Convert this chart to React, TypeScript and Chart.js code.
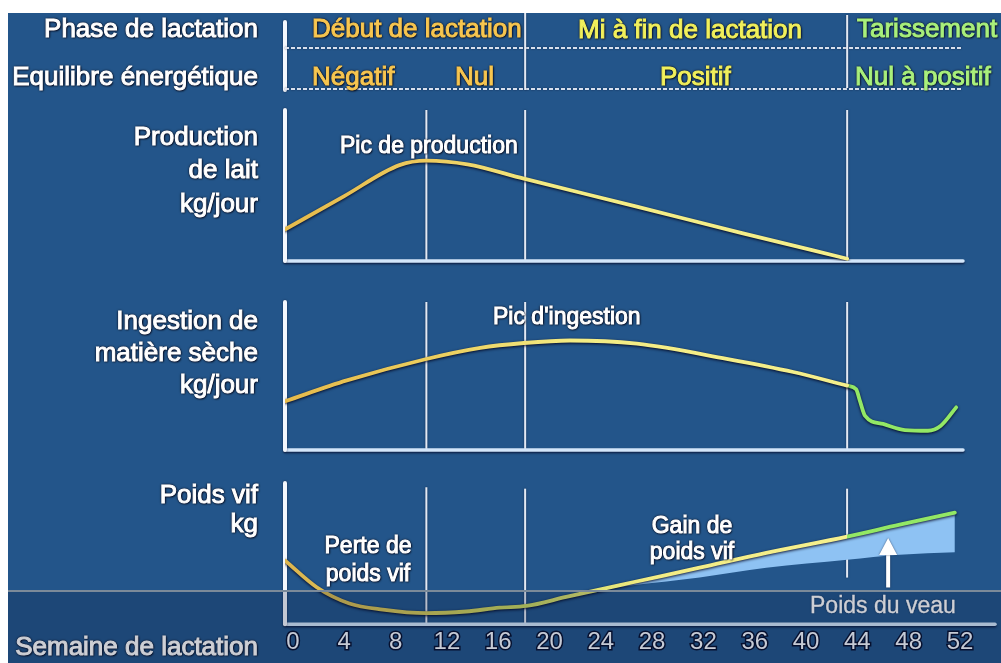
import React, { useEffect, useRef } from "react";
import { Chart, registerables } from "chart.js";

Chart.register(...registerables);

// ---------------- data ----------------
const weekTicks = [0, 4, 8, 12, 16, 20, 24, 28, 32, 36, 40, 44, 48, 52];
const phaseBoundaries = [10.4, 18.1, 43.2];

const milkWeeks = [-0.6, 4, 8.3, 10.4, 13.6, 18, 26.8, 35, 43.2];
const milkValues = [21, 43, 63.5, 66.5, 64, 54.5, 36, 18.5, 1.5];

const dmiWeeks = [-0.6, 4.2, 10.4, 14.6, 18, 21.6, 26.8, 33.8, 39, 43.2];
const dmiValues = [33, 47, 61.5, 69, 72.3, 74, 71.8, 61.6, 52.7, 43.5];
const dmiDryWeeks = [43.2, 43.9, 44.2, 44.6, 46, 47.7, 49.5, 50.5, 51.7];
const dmiDryValues = [43.5, 41, 33, 23, 17.6, 13.5, 13, 16.4, 28.8];

const bwWeeks = [-0.6, 1.85, 4.4, 7, 10.4, 13.5, 16.1, 18.2, 21.3, 26.5, 31.7, 36.9, 43.2, 47.3, 51.6];
const bwValues = [45, 26.2, 14.7, 10.3, 7.8, 9, 11.7, 12.9, 19.3, 29.7, 40, 50.5, 62, 70.5, 79];
const calfWeeks = [24, 26.5, 31.7, 36.9, 43.2, 47.3, 51.6];
const bwWithoutCalf = [24.7, 27.6, 33.1, 40, 45.7, 49.2, 51];

const calfArrow = { week: 46.4, from: 26, to: 61 };

// ---------------- layout / style ----------------
const X_MIN = -0.62;
const X_MAX = 52.23;
const X_MAX_BOTTOM = 54.73;
const FONT = '"Liberation Sans", Arial, Helvetica, sans-serif';
const GOLD = "#e6bb4c";
const YELLOW = "#f3ec84";
const GREEN = "#93e865";

const pts = (xs: number[], ys: number[]) => xs.map((x, i) => ({ x, y: ys[i] }));

function gradient(chart: any, stops: [number, string][]) {
  const { chartArea, scales } = chart;
  if (!chartArea || !scales || !scales.x) return stops[0][1];
  const g = chart.ctx.createLinearGradient(chartArea.left, 0, chartArea.right, 0);
  const w = chartArea.right - chartArea.left;
  stops.forEach(([v, c]) => {
    const p = (scales.x.getPixelForValue(v) - chartArea.left) / w;
    g.addColorStop(Math.min(1, Math.max(0, p)), c);
  });
  return g;
}

type PanelOpts = { tops: number[]; bottoms: number[]; header?: boolean; arrow?: boolean };

function panelPlugin(o: PanelOpts) {
  return {
    id: "panelDecor",
    beforeDatasetsDraw(chart: any) {
      const { ctx, chartArea: a, scales } = chart;
      const xs = scales.x;
      const ys = scales.y;
      ctx.save();
      ctx.shadowColor = "rgba(0,0,30,0.6)";
      ctx.shadowBlur = 2;
      ctx.strokeStyle = "rgba(238,243,252,0.95)";
      ctx.lineWidth = 2;
      phaseBoundaries.forEach((w, i) => {
        const x = xs.getPixelForValue(w);
        ctx.beginPath();
        ctx.moveTo(x, ys.getPixelForValue(o.tops[i]));
        ctx.lineTo(x, ys.getPixelForValue(o.bottoms[i]));
        ctx.stroke();
      });
      ctx.lineCap = "round";
      ctx.shadowOffsetY = 1.5;
      ctx.strokeStyle = "#d3e6fa";
      ctx.lineWidth = 3.5;
      ctx.beginPath();
      ctx.moveTo(a.left, a.bottom);
      ctx.lineTo(a.right, a.bottom);
      ctx.stroke();
      ctx.shadowOffsetY = 0;
      ctx.strokeStyle = "#f3f7fd";
      ctx.lineWidth = 4;
      ctx.beginPath();
      ctx.moveTo(a.left, a.top);
      ctx.lineTo(a.left, a.bottom);
      ctx.stroke();
      ctx.restore();
    },
    beforeDatasetDraw(chart: any) {
      const ctx = chart.ctx;
      ctx.save();
      ctx.shadowColor = "rgba(0,0,25,0.9)";
      ctx.shadowBlur = 3;
      ctx.shadowOffsetY = 1;
    },
    afterDatasetDraw(chart: any) {
      chart.ctx.restore();
    },
    afterDatasetsDraw(chart: any) {
      const { ctx, chartArea: a, scales } = chart;
      const xs = scales.x;
      const ys = scales.y;
      if (o.arrow) {
        const x = xs.getPixelForValue(calfArrow.week);
        const y0 = ys.getPixelForValue(calfArrow.from);
        const y1 = ys.getPixelForValue(calfArrow.to);
        ctx.save();
        ctx.shadowColor = "rgba(0,0,30,0.6)";
        ctx.shadowBlur = 2;
        ctx.fillStyle = "#ffffff";
        ctx.fillRect(x - 2, y1 + 15, 4, y0 - y1 - 15);
        ctx.beginPath();
        ctx.moveTo(x, y1);
        ctx.lineTo(x - 9, y1 + 17);
        ctx.lineTo(x + 9, y1 + 17);
        ctx.closePath();
        ctx.fill();
        ctx.restore();
      }
      if (o.header) {
        ctx.save();
        ctx.shadowColor = "rgba(0,0,30,0.6)";
        ctx.shadowBlur = 2;
        ctx.strokeStyle = "#f3f7fd";
        ctx.lineWidth = 4;
        ctx.lineCap = "round";
        ctx.beginPath();
        ctx.moveTo(a.left, 9);
        ctx.lineTo(a.left, 77);
        ctx.stroke();
        ctx.lineCap = "butt";
        ctx.setLineDash([4, 2]);
        ctx.lineWidth = 2;
        ctx.strokeStyle = "rgba(232,238,248,0.92)";
        [35, 76].forEach((y) => {
          ctx.beginPath();
          ctx.moveTo(a.left, y);
          ctx.lineTo(a.right, y);
          ctx.stroke();
        });
        ctx.setLineDash([]);
        ctx.strokeStyle = "rgba(238,243,252,0.95)";
        const hx1 = xs.getPixelForValue(phaseBoundaries[1]);
        const hx2 = xs.getPixelForValue(phaseBoundaries[2]);
        ctx.beginPath();
        ctx.moveTo(hx1, 0);
        ctx.lineTo(hx1, 77);
        ctx.moveTo(hx2, 2);
        ctx.lineTo(hx2, 75);
        ctx.stroke();
        ctx.restore();
      }
    },
  };
}

function baseOptions(padding: any, xMax: number, showTicks: boolean): any {
  return {
    animation: false,
    responsive: false,
    events: [],
    layout: { padding },
    plugins: { legend: { display: false }, tooltip: { enabled: false } },
    elements: { point: { radius: 0 }, line: { borderWidth: 3.8, cubicInterpolationMode: "monotone", borderCapStyle: "round" } },
    scales: {
      x: showTicks
        ? {
            type: "linear",
            min: X_MIN,
            max: xMax,
            grid: { display: false, drawTicks: false },
            border: { display: false },
            afterBuildTicks: (axis: any) => {
              axis.ticks = weekTicks.map((v) => ({ value: v }));
            },
            ticks: {
              autoSkip: false,
              maxRotation: 0,
              padding: 4,
              color: "#f6f9ff",
              font: { family: FONT, size: 24 },
              textStrokeColor: "rgba(0,0,25,0.8)",
              textStrokeWidth: 3,
              callback: (v: any) => String(v),
            },
          }
        : { type: "linear", min: X_MIN, max: xMax, display: false },
      y: { min: 0, max: 100, display: false },
    },
  };
}

type Lbl = { t: string; x: number; y: number; a?: "left" | "right" | "center"; c?: string; s?: number; soft?: boolean };

const ORANGE_T = "#f7c650";
const YELLOW_T = "#f1f05c";
const GREEN_T = "#a9f07c";

const labels: Lbl[] = [
  { t: "Phase de lactation", x: 258, y: 28, a: "right" },
  { t: "Equilibre énergétique", x: 258, y: 75.5, a: "right" },
  { t: "Début de lactation", x: 312, y: 28, c: ORANGE_T },
  { t: "Négatif", x: 312, y: 75.5, c: ORANGE_T },
  { t: "Nul", x: 455, y: 75.5, c: ORANGE_T },
  { t: "Mi à fin de lactation", x: 578, y: 29, c: YELLOW_T },
  { t: "Positif", x: 660, y: 75.5, c: YELLOW_T },
  { t: "Tarissement", x: 857, y: 28, c: GREEN_T },
  { t: "Nul à positif", x: 855, y: 75.5, c: GREEN_T },
  { t: "Production", x: 258, y: 136, a: "right" },
  { t: "de lait", x: 258, y: 169, a: "right" },
  { t: "kg/jour", x: 258, y: 203, a: "right" },
  { t: "Pic de production", x: 340, y: 145, s: 23 },
  { t: "Ingestion de", x: 258, y: 320, a: "right" },
  { t: "matière sèche", x: 258, y: 352, a: "right" },
  { t: "kg/jour", x: 258, y: 384, a: "right" },
  { t: "Pic d'ingestion", x: 493, y: 316.5, s: 23 },
  { t: "Poids vif", x: 258, y: 494, a: "right" },
  { t: "kg", x: 258, y: 523, a: "right" },
  { t: "Perte de", x: 368, y: 545, a: "center", s: 23 },
  { t: "poids vif", x: 368, y: 573, a: "center", s: 23 },
  { t: "Gain de", x: 692, y: 525, a: "center", s: 23 },
  { t: "poids vif", x: 692, y: 551.5, a: "center", s: 23 },
  { t: "Poids du veau", x: 810, y: 605, s: 23, soft: true },
  { t: "Semaine de lactation", x: 258, y: 646, a: "right" },
];

function Label({ l }: { l: Lbl }) {
  const s = l.s || 26;
  const style: any = {
    position: "absolute",
    top: l.y - 13 - s / 2,
    fontSize: s,
    lineHeight: `${s}px`,
    whiteSpace: "nowrap",
    color: l.c || "#ffffff",
    fontFamily: FONT,
    WebkitTextStroke: l.soft ? "0.3px currentColor" : "1px currentColor",
    textShadow: l.soft
      ? "0 0 2px rgba(0,0,20,0.7)"
      : "0 0 1px #00081a, 0 0 2px #00081a, 0 0 3px #00081a, 1px 1px 2px rgba(0,0,20,0.9)",
  };
  if (l.a === "right") style.right = 1001 - l.x;
  else if (l.a === "center") {
    style.left = l.x - 8;
    style.transform = "translateX(-50%)";
  } else style.left = l.x - 8;
  return <div style={style}>{l.t}</div>;
}

export default function App() {
  const c1 = useRef<HTMLCanvasElement>(null);
  const c2 = useRef<HTMLCanvasElement>(null);
  const c3 = useRef<HTMLCanvasElement>(null);

  useEffect(() => {
    const charts: Chart[] = [];
    charts.push(
      new Chart(c1.current as HTMLCanvasElement, {
        type: "line",
        data: {
          datasets: [
            {
              label: "Production de lait",
              data: pts(milkWeeks, milkValues),
              borderColor: (ctx: any) =>
                gradient(ctx.chart, [
                  [0, GOLD],
                  [10, "#ecc95c"],
                  [20, YELLOW],
                  [52, "#f6f08e"],
                ]),
            },
          ],
        },
        options: baseOptions({ left: 277, right: 38, top: 97, bottom: 14 }, X_MAX, false),
        plugins: [panelPlugin({ tops: [100, 100, 100], bottoms: [0, 0, 0], header: true })],
      } as any)
    );
    charts.push(
      new Chart(c2.current as HTMLCanvasElement, {
        type: "line",
        data: {
          datasets: [
            {
              label: "Ingestion de matière sèche",
              data: pts(dmiWeeks, dmiValues),
              borderColor: (ctx: any) =>
                gradient(ctx.chart, [
                  [0, GOLD],
                  [12, "#ecd060"],
                  [22, YELLOW],
                  [52, "#f6f08e"],
                ]),
            },
            {
              label: "Ingestion (tarissement)",
              data: pts(dmiDryWeeks, dmiDryValues),
              borderColor: GREEN,
            },
          ],
        },
        options: baseOptions({ left: 277, right: 38, top: 27, bottom: 10 }, X_MAX, false),
        plugins: [panelPlugin({ tops: [100, 100, 100], bottoms: [0, 0, 0] })],
      } as any)
    );
    charts.push(
      new Chart(c3.current as HTMLCanvasElement, {
        type: "line",
        data: {
          datasets: [
            {
              label: "Poids vif",
              data: pts(bwWeeks, bwValues),
              borderColor: (ctx: any) =>
                gradient(ctx.chart, [
                  [0, "#dcb650"],
                  [18, "#c9d862"],
                  [28, YELLOW],
                  [43.2, "#f5f08e"],
                  [43.2, GREEN],
                  [54, GREEN],
                ]),
            },
            {
              label: "Poids vif sans veau",
              data: pts(calfWeeks, bwWithoutCalf),
              borderColor: "transparent",
              borderWidth: 0,
              backgroundColor: "#8ec2f3",
              fill: { target: 0 },
            },
          ],
        },
        options: baseOptions({ left: 277, right: 6, top: 23, bottom: 2 }, X_MAX_BOTTOM, true),
        plugins: [panelPlugin({ tops: [97, 96, 96], bottoms: [0, 0, 33], arrow: true })],
      } as any)
    );
    return () => charts.forEach((c) => c.destroy());
  }, []);

  return (
    <div
      style={{
        position: "fixed",
        left: 8,
        top: 13,
        width: 993,
        height: 650,
        background: "#23558a",
        overflow: "hidden",
      }}
    >
      <canvas ref={c1} width={993} height={262} style={{ position: "absolute", left: 0, top: 0, width: 993, height: 262 }} />
      <canvas ref={c2} width={993} height={185} style={{ position: "absolute", left: 0, top: 262, width: 993, height: 185 }} />
      <canvas ref={c3} width={993} height={203} style={{ position: "absolute", left: 0, top: 447, width: 993, height: 203 }} />
      {labels.map((l, i) => (
        <Label key={i} l={l} />
      ))}
      <div
        style={{
          position: "absolute",
          left: 0,
          top: 577,
          width: 993,
          height: 73,
          background: "rgba(4,14,44,0.2)",
          borderTop: "2px solid #7b8a99",
          pointerEvents: "none",
        }}
      />
    </div>
  );
}
